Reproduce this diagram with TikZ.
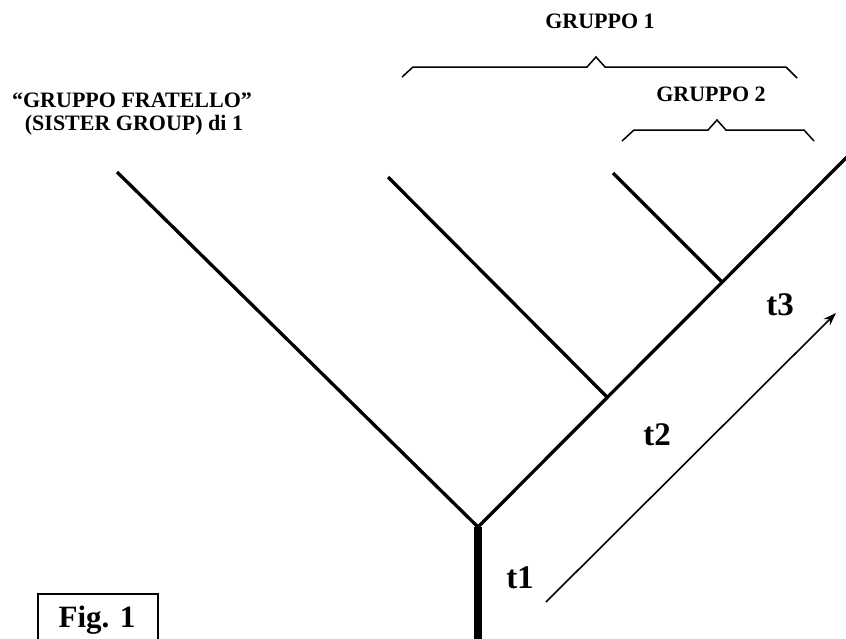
\documentclass[tikz,border=0pt]{standalone}
\usepackage{fontspec}
\setmainfont{Liberation Serif}
\usetikzlibrary{arrows.meta}
\begin{document}
\begin{tikzpicture}[x=1pt,y=-1pt,
  branch/.style={line width=3.3pt},
  trunk/.style={line width=8pt},
  bracepath/.style={line width=1.5pt},
  lbl/.style={font=\bfseries\fontsize{22}{26}\selectfont, inner sep=0pt, anchor=base},
  tlbl/.style={font=\bfseries\fontsize{33}{38}\selectfont, inner sep=0pt, anchor=base},
  figlbl/.style={font=\bfseries\fontsize{31}{36}\selectfont, inner sep=0pt, anchor=base}]
\useasboundingbox (0,0) rectangle (846,638);
% tree
\coordinate (root) at (478,527);
\coordinate (bottom) at (478,645);
\coordinate (leftend) at (117,172);
\coordinate (n2) at (607,397);
\coordinate (n3) at (722,282);
\coordinate (rightend) at (848,156);
\coordinate (b2end) at (388,177);
\coordinate (b3end) at (613,173);
\draw[trunk] (bottom) -- (root);
\draw[branch] (root) -- (leftend);
\draw[branch] (root) -- (rightend);
\draw[branch] (n2) -- (b2end);
\draw[branch] (n3) -- (b3end);
% time arrow
\coordinate (astart) at (546,602);
\coordinate (aend) at (836,313);
\draw[line width=1.6pt,-{Stealth[length=13pt,width=9pt]}] (astart) -- (aend);
% braces
\draw[bracepath] (402,77) -- (413,67) -- (587,67) -- (596,57) -- (605,67) -- (786,67) -- (797,78);
\draw[bracepath] (622,141) -- (634,130) -- (708,130) -- (717,120) -- (726,130) -- (804,130) -- (814,141);
% labels
\node[lbl] (g1) at (600,28) {GRUPPO 1};
\node[lbl] (g2) at (711,101) {GRUPPO 2};
\node[lbl] (s1) at (132,107) {“GRUPPO FRATELLO”};
\node[lbl] (s2) at (134,130) {(SISTER GROUP) di 1};
\node[tlbl] (t3) at (780,315) {t3};
\node[tlbl] (t2) at (657,445) {t2};
\node[tlbl] (t1) at (520,588) {t1};
% figure box
\draw[line width=1.5pt] (38,594) rectangle (158,645);
\node[figlbl] (fig) at (97,627) {Fig. 1};
\end{tikzpicture}
\end{document}
